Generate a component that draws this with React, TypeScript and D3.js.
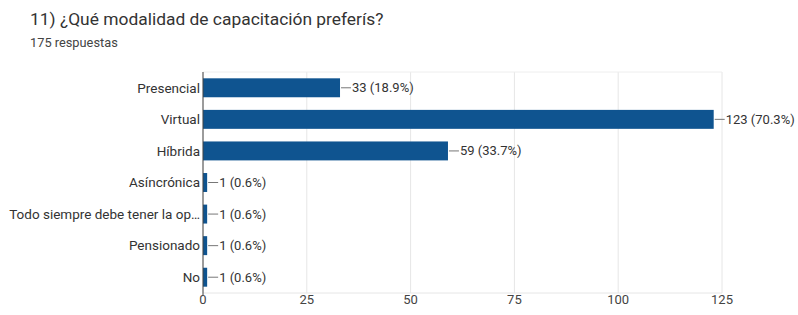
import * as d3 from "d3";
import { useRef, useEffect } from "react";

// datos del gráfico
const categories = [
  "Presencial",
  "Virtual",
  "Híbrida",
  "Asíncrónica",
  "Todo siempre debe tener la op…",
  "Pensionado",
  "No",
];
const counts = [33, 123, 59, 1, 1, 1, 1];
const percents = ["18.9%", "70.3%", "33.7%", "0.6%", "0.6%", "0.6%", "0.6%"];
const xTicks = [0, 25, 50, 75, 100, 125];

const title = "11) ¿Qué modalidad de capacitación preferís?";
const subtitle = "175 respuestas";

const W = 798;
const H = 315;
const margin = { top: 72, bottom: 22, left: 203, right: 76 };
const font = "Roboto, 'Noto Sans', sans-serif";

const App = () => {
  const ref = useRef<SVGSVGElement>(null);

  useEffect(() => {
    if (!ref.current) return;
    const svg = d3.select(ref.current);
    svg.selectAll("*").remove();

    const x = d3
      .scaleLinear()
      .domain([0, 125])
      .range([margin.left, W - margin.right]);
    const y = d3
      .scaleBand()
      .domain(categories)
      .range([margin.top, H - margin.bottom])
      .paddingInner(0.4)
      .paddingOuter(0.2);

    // título
    svg.append("text")
      .attr("x", 30).attr("y", 25)
      .attr("font-family", font).attr("font-size", 17.4)
      .attr("fill", "#333")
      .text(title);
    svg.append("text")
      .attr("x", 30).attr("y", 47)
      .attr("font-family", font).attr("font-size", 12.8)
      .attr("fill", "#444")
      .text(subtitle);

    // rejilla
    svg.append("g")
      .selectAll("line")
      .data(xTicks)
      .enter()
      .append("line")
      .attr("x1", d => x(d)).attr("x2", d => x(d))
      .attr("y1", margin.top).attr("y2", H - margin.bottom)
      .attr("stroke", "#e6e6e6");
    svg.append("line")
      .attr("x1", margin.left).attr("x2", x(125))
      .attr("y1", margin.top).attr("y2", margin.top)
      .attr("stroke", "#eeeeee");
    svg.append("line")
      .attr("x1", margin.left).attr("x2", x(125))
      .attr("y1", H - margin.bottom).attr("y2", H - margin.bottom)
      .attr("stroke", "#e6e6e6");

    // etiquetas eje x
    svg.append("g")
      .selectAll("text")
      .data(xTicks)
      .enter()
      .append("text")
      .attr("x", d => x(d))
      .attr("y", H - margin.bottom + 11)
      .attr("text-anchor", "middle")
      .attr("font-family", font).attr("font-size", 13)
      .attr("fill", "#444")
      .text(d => d);

    // barras
    const rows = categories.map((c, i) => ({ c, v: counts[i], p: percents[i] }));
    svg.append("g")
      .selectAll("rect")
      .data(rows)
      .enter()
      .append("rect")
      .attr("x", x(0))
      .attr("y", d => y(d.c)!)
      .attr("width", d => x(d.v) - x(0))
      .attr("height", y.bandwidth())
      .attr("fill", "#0f5490");

    // líneas guía y valores
    const lab = svg.append("g").selectAll("g").data(rows).enter().append("g");
    lab.append("line")
      .attr("x1", d => x(d.v) + 1).attr("x2", d => x(d.v) + 11)
      .attr("y1", d => y(d.c)! + y.bandwidth() / 2)
      .attr("y2", d => y(d.c)! + y.bandwidth() / 2)
      .attr("stroke", "#777");
    lab.append("text")
      .attr("x", d => x(d.v) + 12)
      .attr("y", d => y(d.c)! + y.bandwidth() / 2)
      .attr("dy", "0.35em")
      .attr("font-family", font).attr("font-size", 13)
      .attr("fill", "#333")
      .text(d => `${d.v} (${d.p})`);

    // etiquetas de categoría
    svg.append("g")
      .selectAll("text")
      .data(categories)
      .enter()
      .append("text")
      .attr("x", margin.left - 3)
      .attr("y", d => y(d)! + y.bandwidth() / 2)
      .attr("dy", "0.35em")
      .attr("text-anchor", "end")
      .attr("font-family", font).attr("font-size", 13.5)
      .attr("fill", "#333")
      .text(d => d);

    // eje
    svg.append("line")
      .attr("x1", margin.left).attr("x2", margin.left)
      .attr("y1", margin.top).attr("y2", H - margin.bottom + 2)
      .attr("stroke", "#444");
  }, []);

  return (
    <svg
      ref={ref}
      width={W}
      height={H}
      style={{ position: "absolute", left: 0, top: 0, background: "#fff" }}
    ></svg>
  );
};

export default App;
